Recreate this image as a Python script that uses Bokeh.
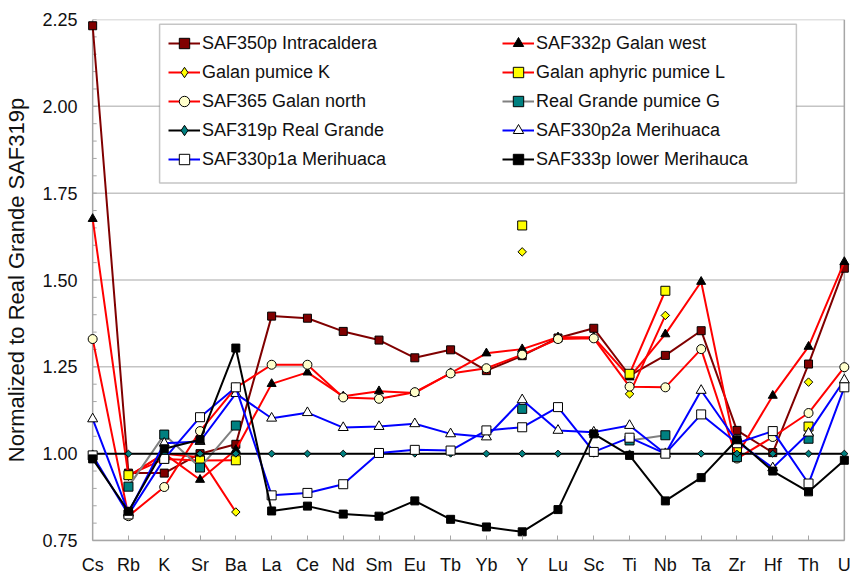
import math
from bokeh.plotting import figure
from bokeh.models import (FixedTicker, Legend, LegendItem, BoxAnnotation, Span,
                          ColumnDataSource, NumeralTickFormatter)
from bokeh.embed import file_html
from bokeh.resources import INLINE

nan = float("nan")

elements = ["Cs", "Rb", "K", "Sr", "Ba", "La", "Ce", "Nd", "Sm", "Eu", "Tb",
            "Yb", "Y", "Lu", "Sc", "Ti", "Nb", "Ta", "Zr", "Hf", "Th", "U"]

saf350p = [2.232, 0.944, 0.944, 1.000, 1.027, 1.396, 1.390, 1.352, 1.327, 1.276, 1.299,
           1.239, 1.282, 1.333, 1.361, 1.225, 1.283, 1.354, 1.067, 1.003, 1.258, 1.534]
saf332p = [1.676, 0.935, 1.000, 0.925, 1.011, 1.201, 1.234, 1.165, 1.180, 1.175, 1.232,
           1.289, 1.301, 1.335, 1.335, 1.220, 1.344, 1.495, 0.995, 1.167, 1.308, 1.552]
galan_k = [nan, 0.935, 1.000, 0.990, 0.832, nan, nan, nan, nan, nan, nan,
           nan, 1.581, nan, nan, 1.172, 1.398, nan, 1.000, nan, 1.206, nan]
galan_l = [nan, 0.938, 0.985, 0.980, 0.981, nan, nan, nan, nan, nan, nan,
           nan, 1.657, nan, nan, 1.230, 1.469, nan, 1.009, nan, 1.078, nan]
saf365 = [1.330, 0.820, 0.904, 1.065, 1.190, 1.256, 1.256, 1.162, 1.158, 1.177, 1.231,
          1.246, 1.285, 1.330, 1.332, 1.193, 1.191, 1.301, 0.986, 1.048, 1.117, 1.249]
rg_pumice_g = [nan, 0.905, 1.055, 0.960, 1.081, nan, nan, nan, nan, nan, nan,
               nan, 1.129, nan, nan, 1.038, 1.053, nan, 0.990, nan, 1.043, nan]
saf319p = [1.000, 1.000, 1.000, 1.000, 1.000, 1.000, 1.000, 1.000, 1.000, 1.000, 1.000,
           1.000, 1.000, 1.000, 1.000, 1.000, 1.000, 1.000, 1.000, 1.000, 1.000, 1.000]
saf330p2a = [1.100, 0.830, 1.030, 1.035, 1.173, 1.102, 1.118, 1.075, 1.078, 1.086, 1.057,
             1.048, 1.155, 1.067, 1.062, 1.081, 1.000, 1.182, 1.035, 0.959, 1.059, 1.212]
saf330p1a = [0.995, 0.825, 0.985, 1.105, 1.191, 0.880, 0.887, 0.912, 1.002, 1.011, 1.009,
             1.067, 1.076, 1.134, 1.005, 1.046, 1.000, 1.113, 1.030, 1.065, 0.914, 1.191]
saf333p = [0.985, 0.834, 1.014, 1.040, 1.304, 0.835, 0.849, 0.826, 0.820, 0.864, 0.811,
           0.789, 0.775, 0.839, 1.057, 0.995, 0.864, 0.931, 1.040, 0.950, 0.890, 0.981]

series_names = ["SAF350p Intracaldera", "SAF332p Galan west", "Galan pumice K",
                "Galan aphyric pumice L", "SAF365 Galan north", "Real Grande pumice G",
                "SAF319p Real Grande", "SAF330p2a Merihuaca", "SAF330p1a Merihuaca",
                "SAF333p lower Merihauca"]
series_values = [saf350p, saf332p, galan_k, galan_l, saf365, rg_pumice_g,
                 saf319p, saf330p2a, saf330p1a, saf333p]

y_ticks = [0.75, 1.00, 1.25, 1.50, 1.75, 2.00, 2.25]
y_minor = [round(0.75 + 0.05 * i, 2) for i in range(31)]

# style: line colour, marker, marker fill, marker size, angle, legend marker, legend size
D45 = math.pi / 4
styles = [
    ("#800000", "square", "#800000", 8, 0.0, "square", 7),
    ("#ff0000", "triangle", "#000000", 9, 0.0, "triangle", 8),
    ("#ff0000", "square", "#ffff00", 6, D45, "diamond", 9),
    ("#ff0000", "square", "#ffff00", 9, 0.0, "square", 8),
    ("#ff0000", "circle", "#ffffcc", 9, 0.0, "circle", 8),
    ("#808080", "square", "#008080", 9, 0.0, "square", 8),
    ("#000000", "square", "#008080", 5, D45, "diamond", 8),
    ("#0000ff", "triangle", "#ffffff", 10, 0.0, "triangle", 9),
    ("#0000ff", "square", "#ffffff", 9, 0.0, "square", 8),
    ("#000000", "square", "#000000", 8, 0.0, "square", 7),
]

FONT = "Liberation Sans"
GRID = "#c4c4c4"
FRAME = "#a6a6a6"

n_last = len(elements) - 1
pad = 0.2
p = figure(frame_width=766, frame_height=521,
           x_range=(-pad, n_last + pad), y_range=(y_ticks[0], y_ticks[-1]),
           output_backend="svg", toolbar_location=None,
           min_border_top=19, min_border_right=7, min_border_left=85, min_border_bottom=0)
p.background_fill_color = "white"
p.border_fill_color = "white"
p.outline_line_color = None

xs = list(range(len(elements)))

# x axis: line only between first and last category
p.xaxis.ticker = FixedTicker(ticks=xs)
p.xaxis.bounds = (0, n_last)
p.xaxis.major_label_overrides = {i: e for i, e in enumerate(elements)}
p.xaxis.major_tick_in = 5
p.xaxis.major_tick_out = 0
p.xaxis.minor_tick_in = 0
p.xaxis.minor_tick_out = 0
p.xaxis.major_label_standoff = 14
p.xaxis.axis_line_color = FRAME
p.xaxis.axis_line_width = 1.5
p.xaxis.major_tick_line_color = FRAME
p.xaxis.minor_tick_line_color = None

# y axis: labels only; frame lines drawn at the first/last category
p.yaxis.ticker = FixedTicker(ticks=y_ticks)
p.yaxis.formatter = NumeralTickFormatter(format="0.00")
p.yaxis.axis_line_color = None
p.yaxis.major_tick_line_color = None
p.yaxis.minor_tick_line_color = None
p.yaxis.major_tick_in = 0
p.yaxis.major_tick_out = 0
p.yaxis.minor_tick_in = 0
p.yaxis.minor_tick_out = 0
p.yaxis.major_label_standoff = 8
p.yaxis.axis_label = "Normalized to Real Grande SAF319p"
p.yaxis.axis_label_text_font = FONT
p.yaxis.axis_label_text_font_size = "22px"
p.yaxis.axis_label_text_font_style = "normal"
p.yaxis.axis_label_text_color = "#111111"
p.yaxis.axis_label_standoff = 10

for ax in (p.xaxis, p.yaxis):
    ax.major_label_text_font = FONT
    ax.major_label_text_font_size = "18px"
    ax.major_label_text_color = "#111111"

p.xgrid.visible = False
p.ygrid.visible = False

# horizontal gridlines between first and last category
p.segment(x0=0, x1=n_last, y0=y_ticks, y1=y_ticks, line_color=GRID, line_width=1.5,
          level="underlay")
# frame sides
p.add_layout(Span(location=0, dimension="height", line_color=FRAME, line_width=1.5,
                  level="underlay"))
p.add_layout(Span(location=n_last, dimension="height", line_color=FRAME, line_width=1.5,
                  level="underlay"))
# inward minor ticks on the value axis
p.ray(x=0, y=y_minor, length=4, length_units="screen", angle=0,
      line_color=FRAME, line_width=1, level="underlay")

items = []
for name, vals, (lc, mk, fc, sz, ang, lmk, lsz) in zip(series_names, series_values, styles):
    src = ColumnDataSource(dict(x=xs, y=vals))
    r_line = p.line("x", "y", source=src, line_color=lc, line_width=2)
    p.scatter("x", "y", source=src, marker=mk, size=sz, angle=ang,
              fill_color=fc, line_color="black", line_width=1)
    # legend key marker (a single unplotted point carries the key style)
    r_key = p.scatter(x=[nan], y=[nan], marker=lmk, size=lsz,
                      fill_color=fc, line_color="black", line_width=1)
    items.append(LegendItem(label=name, renderers=[r_line, r_key]))

box = BoxAnnotation(left=1.87, right=19.66, top=2.236, bottom=1.779,
                    fill_color="white", fill_alpha=1.0,
                    line_color="#404040", line_width=1.5)
p.add_layout(box)

for col, xoff in ((0, 83), (1, 417)):
    leg = Legend(items=items[col::2], location=(xoff, 368), orientation="vertical",
                 border_line_color=None, background_fill_alpha=0.0,
                 padding=0, margin=0, spacing=3,
                 glyph_width=32, glyph_height=26, label_height=26, label_standoff=2,
                 label_text_font=FONT, label_text_font_size="18px",
                 label_text_color="#111111")
    p.add_layout(leg)

open("out.html", "w").write(file_html(p, INLINE))
